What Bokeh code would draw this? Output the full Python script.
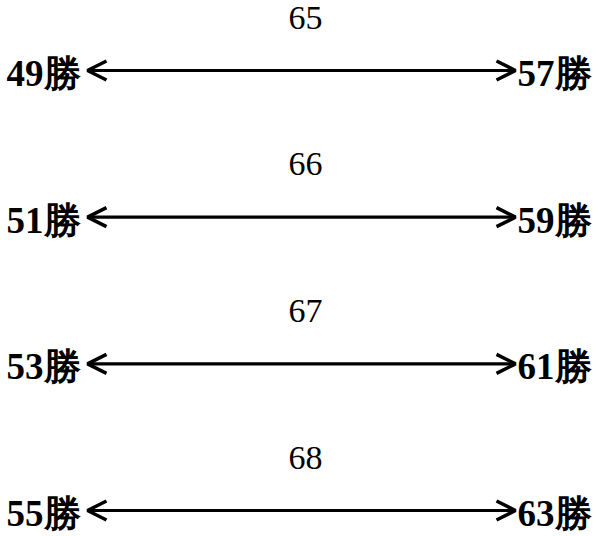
from bokeh.plotting import figure
from bokeh.models import Range1d, Arrow, OpenHead, ColumnDataSource
from bokeh.core.properties import value
from bokeh.embed import file_html
from bokeh.resources import INLINE

# data
totals = ["65", "66", "67", "68"]
low_wins = [49, 51, 53, 55]
high_wins = [57, 59, 61, 63]
suffix = "勝"

rows = list(range(len(totals)))
W, H = 596, 534
X_LEFT, X_RIGHT = 87, 515
X_MID = (X_LEFT + X_RIGHT) / 2
ROW_PX = 146.67
Y0 = 70

p = figure(width=W, height=H, output_backend="svg", toolbar_location=None,
           x_range=Range1d(0, W),
           y_range=Range1d((H - Y0) / ROW_PX, -Y0 / ROW_PX),
           min_border=0)
p.axis.visible = False
p.grid.visible = False
p.outline_line_color = None
p.background_fill_color = "white"
p.border_fill_color = "white"

src = ColumnDataSource(dict(
    row=rows,
    total=totals,
    left=[f"{v}{suffix}" for v in low_wins],
    right=[f"{v}{suffix}" for v in high_wins],
    xl=[X_LEFT] * len(rows),
    xr=[X_RIGHT] * len(rows),
    xm=[X_MID] * len(rows),
))

for r in rows:
    p.add_layout(Arrow(
        start=OpenHead(size=19, line_width=3.5, line_color="black"),
        end=OpenHead(size=19, line_width=3.5, line_color="black"),
        x_start=X_LEFT, y_start=r, x_end=X_RIGHT, y_end=r,
        line_width=3.2, line_color="black"))

p.text(x="xl", y="row", text="left", source=src, text_align="right",
       text_baseline="middle", text_font=value("Liberation Serif"),
       text_font_size="37px", text_font_style="bold", text_color="black",
       x_offset=-7, y_offset=3)
p.text(x="xr", y="row", text="right", source=src, text_align="left",
       text_baseline="middle", text_font=value("Liberation Serif"),
       text_font_size="37px", text_font_style="bold", text_color="black",
       x_offset=2, y_offset=3)
p.text(x="xm", y="row", text="total", source=src, text_align="center",
       text_baseline="middle", text_font=value("Liberation Serif"),
       text_font_size="34px", text_color="black", x_offset=4, y_offset=-53)

open("out.html", "w").write(file_html(p, INLINE))
